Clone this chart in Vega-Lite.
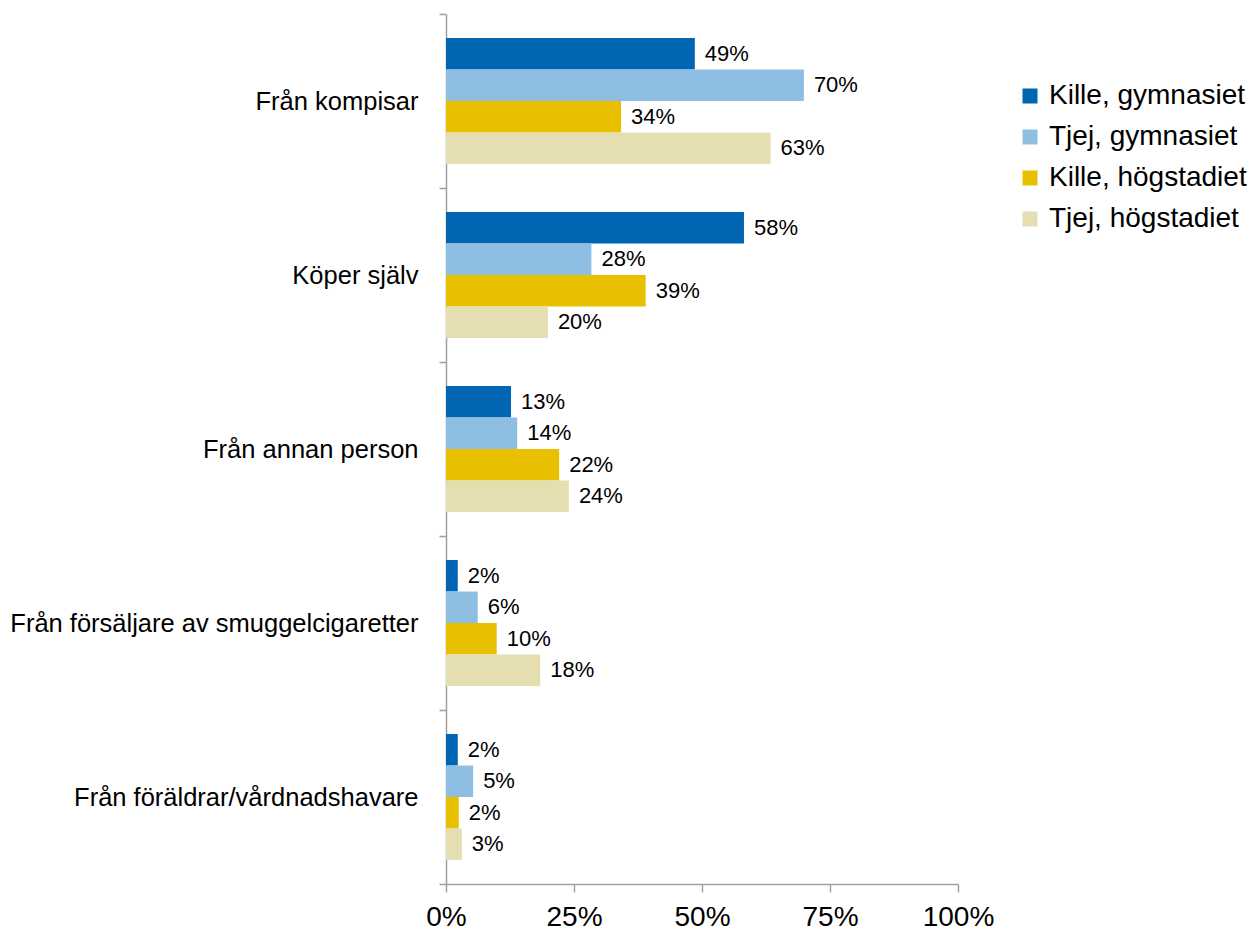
{
  "$schema": "https://vega.github.io/schema/vega-lite/v6.json",
  "width": 512,
  "height": 870,
  "autosize": {"type": "none"},
  "padding": {"left": 446, "top": 14, "right": 293, "bottom": 46},
  "background": "white",
  "config": {
    "view": {"stroke": null},
    "font": "Liberation Sans"
  },
  "data": {
    "values": [
      {"kategori": "Från kompisar", "grupp": "Kille, gymnasiet", "andel": 48.6, "etikett": "49%"},
      {"kategori": "Från kompisar", "grupp": "Tjej, gymnasiet", "andel": 69.9, "etikett": "70%"},
      {"kategori": "Från kompisar", "grupp": "Kille, högstadiet", "andel": 34.2, "etikett": "34%"},
      {"kategori": "Från kompisar", "grupp": "Tjej, högstadiet", "andel": 63.4, "etikett": "63%"},
      {"kategori": "Köper själv", "grupp": "Kille, gymnasiet", "andel": 58.2, "etikett": "58%"},
      {"kategori": "Köper själv", "grupp": "Tjej, gymnasiet", "andel": 28.4, "etikett": "28%"},
      {"kategori": "Köper själv", "grupp": "Kille, högstadiet", "andel": 39.0, "etikett": "39%"},
      {"kategori": "Köper själv", "grupp": "Tjej, högstadiet", "andel": 19.9, "etikett": "20%"},
      {"kategori": "Från annan person", "grupp": "Kille, gymnasiet", "andel": 12.7, "etikett": "13%"},
      {"kategori": "Från annan person", "grupp": "Tjej, gymnasiet", "andel": 13.9, "etikett": "14%"},
      {"kategori": "Från annan person", "grupp": "Kille, högstadiet", "andel": 22.1, "etikett": "22%"},
      {"kategori": "Från annan person", "grupp": "Tjej, högstadiet", "andel": 24.0, "etikett": "24%"},
      {"kategori": "Från försäljare av smuggelcigaretter", "grupp": "Kille, gymnasiet", "andel": 2.3, "etikett": "2%"},
      {"kategori": "Från försäljare av smuggelcigaretter", "grupp": "Tjej, gymnasiet", "andel": 6.2, "etikett": "6%"},
      {"kategori": "Från försäljare av smuggelcigaretter", "grupp": "Kille, högstadiet", "andel": 9.9, "etikett": "10%"},
      {"kategori": "Från försäljare av smuggelcigaretter", "grupp": "Tjej, högstadiet", "andel": 18.4, "etikett": "18%"},
      {"kategori": "Från föräldrar/vårdnadshavare", "grupp": "Kille, gymnasiet", "andel": 2.3, "etikett": "2%"},
      {"kategori": "Från föräldrar/vårdnadshavare", "grupp": "Tjej, gymnasiet", "andel": 5.3, "etikett": "5%"},
      {"kategori": "Från föräldrar/vårdnadshavare", "grupp": "Kille, högstadiet", "andel": 2.5, "etikett": "2%"},
      {"kategori": "Från föräldrar/vårdnadshavare", "grupp": "Tjej, högstadiet", "andel": 3.1, "etikett": "3%"}
    ]
  },
  "encoding": {
    "y": {
      "field": "kategori",
      "type": "nominal",
      "sort": ["Från kompisar", "Köper själv", "Från annan person", "Från försäljare av smuggelcigaretter", "Från föräldrar/vårdnadshavare"],
      "scale": {"paddingInner": 0, "paddingOuter": 0},
      "axis": {
        "title": null,
        "tickBand": "extent",
        "domainColor": "#A0A0A0",
        "domainWidth": 1.5,
        "tickColor": "#A0A0A0",
        "tickWidth": 1.5,
        "tickSize": 7,
        "labelFontSize": 25.5,
        "labelColor": "black",
        "labelPadding": 21,
        "labelLimit": 500
      }
    },
    "yOffset": {
      "field": "grupp",
      "type": "nominal",
      "sort": ["Kille, gymnasiet", "Tjej, gymnasiet", "Kille, högstadiet", "Tjej, högstadiet"],
      "scale": {"paddingInner": 0, "paddingOuter": 0.762}
    },
    "x": {
      "field": "andel",
      "type": "quantitative",
      "scale": {"domain": [0, 100], "nice": false},
      "axis": {
        "title": null,
        "values": [0, 25, 50, 75, 100],
        "labelExpr": "datum.value + '%'",
        "grid": false,
        "domainColor": "#A0A0A0",
        "domainWidth": 1.5,
        "tickColor": "#A0A0A0",
        "tickWidth": 1.5,
        "tickSize": 8,
        "labelFontSize": 28,
        "labelColor": "black",
        "labelPadding": 11,
        "labelFlush": false
      }
    }
  },
  "layer": [
    {
      "mark": {"type": "bar"},
      "encoding": {
        "color": {
          "field": "grupp",
          "type": "nominal",
          "sort": ["Kille, gymnasiet", "Tjej, gymnasiet", "Kille, högstadiet", "Tjej, högstadiet"],
          "scale": {
            "domain": ["Kille, gymnasiet", "Tjej, gymnasiet", "Kille, högstadiet", "Tjej, högstadiet"],
            "range": ["#0066B3", "#8FBEE3", "#E9C000", "#E4DEB0"]
          },
          "legend": {
            "title": null,
            "orient": "none",
            "legendX": 570,
            "legendY": 68,
            "padding": 0,
            "symbolType": "square",
            "symbolSize": 225,
            "symbolStrokeWidth": 0,
            "labelFontSize": 28,
            "labelColor": "black",
            "labelOffset": 5,
            "rowPadding": 13,
            "labelLimit": 400
          }
        }
      }
    },
    {
      "mark": {"type": "text", "align": "left", "baseline": "middle", "dx": 10, "fontSize": 22, "color": "black"},
      "encoding": {
        "text": {"field": "etikett", "type": "nominal"}
      }
    }
  ]
}
